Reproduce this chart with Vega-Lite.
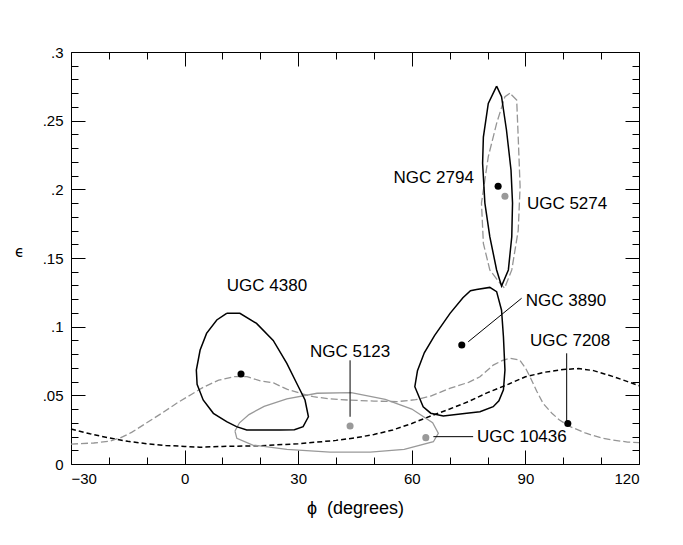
{
  "$schema": "https://vega.github.io/schema/vega-lite/v6.json",
  "width": 568,
  "height": 412,
  "autosize": {"type": "none"},
  "padding": {"left": 71, "top": 52, "right": 44, "bottom": 81},
  "background": "white",
  "config": {
    "view": {"stroke": null},
    "axis": {"grid": false, "domainColor": "black", "labelColor": "black", "titleColor": "black", "labelFont": "Liberation Sans", "labelFontSize": 15, "titleFont": "Liberation Sans", "titleFontWeight": "normal"}
  },
  "datasets": {
    "curves": [
      {"s": "bdash", "i": 0, "x": -30, "y": 0.0255},
      {"s": "bdash", "i": 1, "x": -25, "y": 0.022},
      {"s": "bdash", "i": 2, "x": -20, "y": 0.019},
      {"s": "bdash", "i": 3, "x": -15, "y": 0.0165},
      {"s": "bdash", "i": 4, "x": -10, "y": 0.0148},
      {"s": "bdash", "i": 5, "x": -5, "y": 0.0135},
      {"s": "bdash", "i": 6, "x": 0, "y": 0.0128},
      {"s": "bdash", "i": 7, "x": 4, "y": 0.0122},
      {"s": "bdash", "i": 8, "x": 10, "y": 0.0128},
      {"s": "bdash", "i": 9, "x": 20, "y": 0.0133},
      {"s": "bdash", "i": 10, "x": 30, "y": 0.0147},
      {"s": "bdash", "i": 11, "x": 40, "y": 0.0172},
      {"s": "bdash", "i": 12, "x": 45, "y": 0.019},
      {"s": "bdash", "i": 13, "x": 50, "y": 0.0215},
      {"s": "bdash", "i": 14, "x": 55, "y": 0.0248},
      {"s": "bdash", "i": 15, "x": 60, "y": 0.0295},
      {"s": "bdash", "i": 16, "x": 65, "y": 0.035},
      {"s": "bdash", "i": 17, "x": 70, "y": 0.04},
      {"s": "bdash", "i": 18, "x": 75, "y": 0.0455},
      {"s": "bdash", "i": 19, "x": 80, "y": 0.052},
      {"s": "bdash", "i": 20, "x": 85, "y": 0.0575},
      {"s": "bdash", "i": 21, "x": 90, "y": 0.0635},
      {"s": "bdash", "i": 22, "x": 95, "y": 0.0668},
      {"s": "bdash", "i": 23, "x": 100, "y": 0.0688},
      {"s": "bdash", "i": 24, "x": 104, "y": 0.0695},
      {"s": "bdash", "i": 25, "x": 108, "y": 0.068},
      {"s": "bdash", "i": 26, "x": 113, "y": 0.0638},
      {"s": "bdash", "i": 27, "x": 117, "y": 0.06},
      {"s": "bdash", "i": 28, "x": 120, "y": 0.057},

      {"s": "gdash", "i": 0, "x": -30, "y": 0.0145},
      {"s": "gdash", "i": 1, "x": -24, "y": 0.0153},
      {"s": "gdash", "i": 2, "x": -20, "y": 0.0165},
      {"s": "gdash", "i": 3, "x": -17, "y": 0.019},
      {"s": "gdash", "i": 4, "x": -14, "y": 0.023},
      {"s": "gdash", "i": 5, "x": -10, "y": 0.03},
      {"s": "gdash", "i": 6, "x": -6, "y": 0.037},
      {"s": "gdash", "i": 7, "x": -2, "y": 0.0444},
      {"s": "gdash", "i": 8, "x": 2, "y": 0.051},
      {"s": "gdash", "i": 9, "x": 5, "y": 0.056},
      {"s": "gdash", "i": 10, "x": 9, "y": 0.061},
      {"s": "gdash", "i": 11, "x": 13, "y": 0.0636},
      {"s": "gdash", "i": 12, "x": 16.5, "y": 0.0636},
      {"s": "gdash", "i": 13, "x": 20, "y": 0.0605},
      {"s": "gdash", "i": 14, "x": 23.5, "y": 0.059},
      {"s": "gdash", "i": 15, "x": 27, "y": 0.0545},
      {"s": "gdash", "i": 16, "x": 30.5, "y": 0.0515},
      {"s": "gdash", "i": 17, "x": 34, "y": 0.049},
      {"s": "gdash", "i": 18, "x": 38, "y": 0.0475},
      {"s": "gdash", "i": 19, "x": 43, "y": 0.0466},
      {"s": "gdash", "i": 20, "x": 50, "y": 0.0458},
      {"s": "gdash", "i": 21, "x": 56, "y": 0.0454},
      {"s": "gdash", "i": 22, "x": 61, "y": 0.0468},
      {"s": "gdash", "i": 23, "x": 65, "y": 0.0495},
      {"s": "gdash", "i": 24, "x": 70, "y": 0.055},
      {"s": "gdash", "i": 25, "x": 75, "y": 0.0595},
      {"s": "gdash", "i": 26, "x": 78, "y": 0.0635},
      {"s": "gdash", "i": 27, "x": 81.5, "y": 0.072},
      {"s": "gdash", "i": 28, "x": 84, "y": 0.0755},
      {"s": "gdash", "i": 29, "x": 86, "y": 0.077},
      {"s": "gdash", "i": 30, "x": 88.5, "y": 0.0757},
      {"s": "gdash", "i": 31, "x": 90, "y": 0.07},
      {"s": "gdash", "i": 32, "x": 91.2, "y": 0.0636},
      {"s": "gdash", "i": 33, "x": 93, "y": 0.053},
      {"s": "gdash", "i": 34, "x": 94.7, "y": 0.044},
      {"s": "gdash", "i": 35, "x": 97, "y": 0.037},
      {"s": "gdash", "i": 36, "x": 99, "y": 0.032},
      {"s": "gdash", "i": 37, "x": 102, "y": 0.027},
      {"s": "gdash", "i": 38, "x": 106, "y": 0.0224},
      {"s": "gdash", "i": 39, "x": 110, "y": 0.019},
      {"s": "gdash", "i": 40, "x": 113, "y": 0.0175},
      {"s": "gdash", "i": 41, "x": 117, "y": 0.016},
      {"s": "gdash", "i": 42, "x": 120, "y": 0.0155},

      {"s": "ugc4380", "i": 0, "x": 11.1, "y": 0.1097},
      {"s": "ugc4380", "i": 1, "x": 14.6, "y": 0.1097},
      {"s": "ugc4380", "i": 2, "x": 19, "y": 0.1024},
      {"s": "ugc4380", "i": 3, "x": 23.4, "y": 0.09},
      {"s": "ugc4380", "i": 4, "x": 27, "y": 0.0733},
      {"s": "ugc4380", "i": 5, "x": 29.6, "y": 0.0588},
      {"s": "ugc4380", "i": 6, "x": 31.8, "y": 0.0466},
      {"s": "ugc4380", "i": 7, "x": 32.7, "y": 0.0344},
      {"s": "ugc4380", "i": 8, "x": 31.3, "y": 0.0272},
      {"s": "ugc4380", "i": 9, "x": 29, "y": 0.025},
      {"s": "ugc4380", "i": 10, "x": 25.2, "y": 0.0248},
      {"s": "ugc4380", "i": 11, "x": 16.4, "y": 0.0248},
      {"s": "ugc4380", "i": 12, "x": 13.7, "y": 0.0272},
      {"s": "ugc4380", "i": 13, "x": 11.1, "y": 0.0308},
      {"s": "ugc4380", "i": 14, "x": 7.6, "y": 0.0369},
      {"s": "ugc4380", "i": 15, "x": 4.9, "y": 0.0466},
      {"s": "ugc4380", "i": 16, "x": 3.3, "y": 0.058},
      {"s": "ugc4380", "i": 17, "x": 3.1, "y": 0.0684},
      {"s": "ugc4380", "i": 18, "x": 4.1, "y": 0.083},
      {"s": "ugc4380", "i": 19, "x": 5.8, "y": 0.0951},
      {"s": "ugc4380", "i": 20, "x": 8.5, "y": 0.1049},
      {"s": "ugc4380", "i": 21, "x": 11.1, "y": 0.1097},

      {"s": "ngc3890", "i": 0, "x": 77.1, "y": 0.127},
      {"s": "ngc3890", "i": 1, "x": 80.6, "y": 0.1286},
      {"s": "ngc3890", "i": 2, "x": 82.4, "y": 0.1255},
      {"s": "ngc3890", "i": 3, "x": 83.7, "y": 0.112},
      {"s": "ngc3890", "i": 4, "x": 84.2, "y": 0.0927},
      {"s": "ngc3890", "i": 5, "x": 84.6, "y": 0.0684},
      {"s": "ngc3890", "i": 6, "x": 84.2, "y": 0.054},
      {"s": "ngc3890", "i": 7, "x": 83, "y": 0.046},
      {"s": "ngc3890", "i": 8, "x": 81.5, "y": 0.0417},
      {"s": "ngc3890", "i": 9, "x": 78, "y": 0.038},
      {"s": "ngc3890", "i": 10, "x": 74.5, "y": 0.0369},
      {"s": "ngc3890", "i": 11, "x": 68.3, "y": 0.035},
      {"s": "ngc3890", "i": 12, "x": 65, "y": 0.037},
      {"s": "ngc3890", "i": 13, "x": 63, "y": 0.0417},
      {"s": "ngc3890", "i": 14, "x": 60.8, "y": 0.0563},
      {"s": "ngc3890", "i": 15, "x": 61.5, "y": 0.068},
      {"s": "ngc3890", "i": 16, "x": 63.3, "y": 0.081},
      {"s": "ngc3890", "i": 17, "x": 66, "y": 0.0935},
      {"s": "ngc3890", "i": 18, "x": 70.1, "y": 0.1097},
      {"s": "ngc3890", "i": 19, "x": 73.5, "y": 0.121},
      {"s": "ngc3890", "i": 20, "x": 75.5, "y": 0.1262},
      {"s": "ngc3890", "i": 21, "x": 77.1, "y": 0.127},

      {"s": "ngc2794", "i": 0, "x": 82.4, "y": 0.2752},
      {"s": "ngc2794", "i": 1, "x": 80.2, "y": 0.2626},
      {"s": "ngc2794", "i": 2, "x": 78.9, "y": 0.238},
      {"s": "ngc2794", "i": 3, "x": 78.7, "y": 0.219},
      {"s": "ngc2794", "i": 4, "x": 79.3, "y": 0.19},
      {"s": "ngc2794", "i": 5, "x": 80.6, "y": 0.1655},
      {"s": "ngc2794", "i": 6, "x": 82.4, "y": 0.1413},
      {"s": "ngc2794", "i": 7, "x": 83.7, "y": 0.1296},
      {"s": "ngc2794", "i": 8, "x": 85.5, "y": 0.1413},
      {"s": "ngc2794", "i": 9, "x": 86.4, "y": 0.1655},
      {"s": "ngc2794", "i": 10, "x": 86.6, "y": 0.19},
      {"s": "ngc2794", "i": 11, "x": 86.2, "y": 0.214},
      {"s": "ngc2794", "i": 12, "x": 85, "y": 0.2432},
      {"s": "ngc2794", "i": 13, "x": 83.7, "y": 0.2675},
      {"s": "ngc2794", "i": 14, "x": 82.4, "y": 0.2752},

      {"s": "ugc5274", "i": 0, "x": 85.9, "y": 0.27},
      {"s": "ugc5274", "i": 1, "x": 84.6, "y": 0.2675},
      {"s": "ugc5274", "i": 2, "x": 82.4, "y": 0.248},
      {"s": "ugc5274", "i": 3, "x": 80.2, "y": 0.2238},
      {"s": "ugc5274", "i": 4, "x": 78.4, "y": 0.19},
      {"s": "ugc5274", "i": 5, "x": 78.9, "y": 0.1607},
      {"s": "ugc5274", "i": 6, "x": 80.6, "y": 0.1413},
      {"s": "ugc5274", "i": 7, "x": 83.3, "y": 0.1316},
      {"s": "ugc5274", "i": 8, "x": 84.5, "y": 0.128},
      {"s": "ugc5274", "i": 9, "x": 86.4, "y": 0.1413},
      {"s": "ugc5274", "i": 10, "x": 88.1, "y": 0.17},
      {"s": "ugc5274", "i": 11, "x": 88.6, "y": 0.202},
      {"s": "ugc5274", "i": 12, "x": 88.1, "y": 0.238},
      {"s": "ugc5274", "i": 13, "x": 87.7, "y": 0.265},
      {"s": "ugc5274", "i": 14, "x": 85.9, "y": 0.27},

      {"s": "ngc5123", "i": 0, "x": 13.3, "y": 0.024},
      {"s": "ngc5123", "i": 1, "x": 14.5, "y": 0.03},
      {"s": "ngc5123", "i": 2, "x": 17, "y": 0.036},
      {"s": "ngc5123", "i": 3, "x": 21, "y": 0.042},
      {"s": "ngc5123", "i": 4, "x": 27, "y": 0.0475},
      {"s": "ngc5123", "i": 5, "x": 35, "y": 0.0515},
      {"s": "ngc5123", "i": 6, "x": 44, "y": 0.052},
      {"s": "ngc5123", "i": 7, "x": 53, "y": 0.047},
      {"s": "ngc5123", "i": 8, "x": 60, "y": 0.04},
      {"s": "ngc5123", "i": 9, "x": 65.5, "y": 0.03},
      {"s": "ngc5123", "i": 10, "x": 67, "y": 0.0224},
      {"s": "ngc5123", "i": 11, "x": 65.7, "y": 0.0162},
      {"s": "ngc5123", "i": 12, "x": 58, "y": 0.0107},
      {"s": "ngc5123", "i": 13, "x": 49, "y": 0.0087},
      {"s": "ngc5123", "i": 14, "x": 38.4, "y": 0.0087},
      {"s": "ngc5123", "i": 15, "x": 27, "y": 0.0107},
      {"s": "ngc5123", "i": 16, "x": 18, "y": 0.0138},
      {"s": "ngc5123", "i": 17, "x": 13.8, "y": 0.0187},
      {"s": "ngc5123", "i": 18, "x": 13.3, "y": 0.024},

      {"s": "lead5123", "i": 0, "x": 43.7, "y": 0.0755},
      {"s": "lead5123", "i": 1, "x": 43.7, "y": 0.0344},
      {"s": "lead3890", "i": 0, "x": 74.9, "y": 0.089},
      {"s": "lead3890", "i": 1, "x": 89, "y": 0.1207},
      {"s": "lead7208", "i": 0, "x": 100.9, "y": 0.0806},
      {"s": "lead7208", "i": 1, "x": 100.9, "y": 0.0308},
      {"s": "lead10436", "i": 0, "x": 65.7, "y": 0.0199},
      {"s": "lead10436", "i": 1, "x": 76.2, "y": 0.0199}
    ],
    "dots": [
      {"name": "UGC 4380", "x": 14.9, "y": 0.0655},
      {"name": "NGC 5123", "x": 43.7, "y": 0.0277},
      {"name": "UGC 10436", "x": 63.7, "y": 0.0192},
      {"name": "NGC 3890", "x": 73.2, "y": 0.0867},
      {"name": "NGC 2794", "x": 82.8, "y": 0.2022},
      {"name": "UGC 5274", "x": 84.6, "y": 0.195},
      {"name": "UGC 7208", "x": 101.2, "y": 0.0295}
    ],
    "names": [
      {"name": "UGC 4380", "x": 21.75, "y": 0.1296},
      {"name": "NGC 5123", "x": 43.7, "y": 0.0816},
      {"name": "UGC 7208", "x": 101.8, "y": 0.0896},
      {"name": "NGC 2794", "x": 76.4, "y": 0.2083},
      {"name": "UGC 5274", "x": 90.4, "y": 0.1893},
      {"name": "NGC 3890", "x": 90.1, "y": 0.1187},
      {"name": "UGC 10436", "x": 77.2, "y": 0.0193}
    ]
  },
  "resolve": {"axis": {"x": "independent", "y": "independent"}},
  "layer": [
    {
      "data": {"name": "curves"},
      "transform": [{"filter": "datum.s == 'bdash'"}],
      "mark": {"type": "line", "color": "black", "strokeWidth": 1.5, "strokeDash": [5, 3]},
      "encoding": {
        "x": {"field": "x", "type": "quantitative", "scale": {"domain": [-30, 120], "nice": false, "zero": false},
              "axis": {"orient": "bottom", "values": [-30, -20, -10, 0, 10, 20, 30, 40, 50, 60, 70, 80, 90, 100, 110, 120],
                       "labelExpr": "datum.value % 30 == 0 ? format(datum.value, 'd') : ''",
                       "tickColor": "black",
                       "tickSize": {"condition": {"test": "datum.value % 30 == 0", "value": -14}, "value": -7},
                       "labelPadding": 21,
                       "title": "ϕ\u00a0\u00a0(degrees)", "titleFontSize": 18, "titleY": 44, "titleBaseline": "middle"}},
        "y": {"field": "y", "type": "quantitative", "scale": {"domain": [0, 0.3], "nice": false, "zero": false},
              "axis": {"orient": "left", "values": [0, 0.01, 0.02, 0.03, 0.04, 0.05, 0.06, 0.07, 0.08, 0.09, 0.1, 0.11, 0.12, 0.13, 0.14, 0.15, 0.16, 0.17, 0.18, 0.19, 0.2, 0.21, 0.22, 0.23, 0.24, 0.25, 0.26, 0.27, 0.28, 0.29, 0.3],
                       "labelExpr": "round(datum.value * 100) % 5 == 0 ? (datum.value == 0 ? '0' : slice(format(datum.value, '.2~f'), 1)) : ''",
                       "tickColor": "black",
                       "tickSize": {"condition": {"test": "round(datum.value * 100) % 5 == 0", "value": -14}, "value": -7},
                       "labelPadding": 22,
                       "title": "ϵ", "titleFont": "DejaVu Sans", "titleFontSize": 15, "titleAngle": 0, "titleX": -52, "titleY": 199, "titleAlign": "center", "titleBaseline": "middle"}},
        "order": {"field": "i", "type": "quantitative"}
      }
    },
    {
      "data": {"name": "curves"},
      "transform": [{"filter": "datum.s == 'gdash'"}],
      "mark": {"type": "line", "color": "#959595", "strokeWidth": 1.3, "strokeDash": [7, 3]},
      "encoding": {
        "x": {"field": "x", "type": "quantitative", "scale": {"domain": [-30, 120], "nice": false, "zero": false},
              "axis": {"orient": "top", "values": [-30, -20, -10, 0, 10, 20, 30, 40, 50, 60, 70, 80, 90, 100, 110, 120],
                       "labels": false, "tickColor": "black",
                       "tickSize": {"condition": {"test": "datum.value % 30 == 0", "value": -14}, "value": -7},
                       "title": null}},
        "y": {"field": "y", "type": "quantitative", "scale": {"domain": [0, 0.3], "nice": false, "zero": false},
              "axis": {"orient": "right", "values": [0, 0.01, 0.02, 0.03, 0.04, 0.05, 0.06, 0.07, 0.08, 0.09, 0.1, 0.11, 0.12, 0.13, 0.14, 0.15, 0.16, 0.17, 0.18, 0.19, 0.2, 0.21, 0.22, 0.23, 0.24, 0.25, 0.26, 0.27, 0.28, 0.29, 0.3],
                       "labels": false, "tickColor": "black",
                       "tickSize": {"condition": {"test": "round(datum.value * 100) % 5 == 0", "value": -14}, "value": -7},
                       "title": null}},
        "order": {"field": "i", "type": "quantitative"}
      }
    },
    {
      "data": {"name": "curves"},
      "transform": [{"filter": "datum.s == 'ngc5123'"}],
      "mark": {"type": "line", "color": "#999999", "strokeWidth": 1.3},
      "encoding": {
        "x": {"field": "x", "type": "quantitative", "scale": {"domain": [-30, 120], "nice": false, "zero": false}, "axis": {"orient": "bottom", "values": [], "labels": false, "domain": false, "title": null}},
        "y": {"field": "y", "type": "quantitative", "scale": {"domain": [0, 0.3], "nice": false, "zero": false}, "axis": {"orient": "left", "values": [], "labels": false, "domain": false, "title": null}},
        "order": {"field": "i", "type": "quantitative"}
      }
    },
    {
      "data": {"name": "curves"},
      "transform": [{"filter": "datum.s == 'ugc5274'"}],
      "mark": {"type": "line", "color": "#959595", "strokeWidth": 1.3, "strokeDash": [8, 3]},
      "encoding": {
        "x": {"field": "x", "type": "quantitative", "scale": {"domain": [-30, 120], "nice": false, "zero": false}, "axis": {"orient": "bottom", "values": [], "labels": false, "domain": false, "title": null}},
        "y": {"field": "y", "type": "quantitative", "scale": {"domain": [0, 0.3], "nice": false, "zero": false}, "axis": {"orient": "left", "values": [], "labels": false, "domain": false, "title": null}},
        "order": {"field": "i", "type": "quantitative"}
      }
    },
    {
      "data": {"name": "curves"},
      "transform": [{"filter": "indexof(['ugc4380','ngc3890','ngc2794'], datum.s) >= 0"}],
      "mark": {"type": "line", "color": "black", "strokeWidth": 1.5},
      "encoding": {
        "x": {"field": "x", "type": "quantitative", "scale": {"domain": [-30, 120], "nice": false, "zero": false}, "axis": {"orient": "bottom", "values": [], "labels": false, "domain": false, "title": null}},
        "y": {"field": "y", "type": "quantitative", "scale": {"domain": [0, 0.3], "nice": false, "zero": false}, "axis": {"orient": "left", "values": [], "labels": false, "domain": false, "title": null}},
        "detail": {"field": "s"},
        "order": {"field": "i", "type": "quantitative"}
      }
    },
    {
      "data": {"name": "curves"},
      "transform": [{"filter": "indexof(['lead5123','lead3890','lead7208','lead10436'], datum.s) >= 0"}],
      "mark": {"type": "line", "color": "black", "strokeWidth": 1},
      "encoding": {
        "x": {"field": "x", "type": "quantitative", "scale": {"domain": [-30, 120], "nice": false, "zero": false}, "axis": {"orient": "bottom", "values": [], "labels": false, "domain": false, "title": null}},
        "y": {"field": "y", "type": "quantitative", "scale": {"domain": [0, 0.3], "nice": false, "zero": false}, "axis": {"orient": "left", "values": [], "labels": false, "domain": false, "title": null}},
        "detail": {"field": "s"},
        "order": {"field": "i", "type": "quantitative"}
      }
    },
    {
      "data": {"name": "dots"},
      "transform": [{"filter": "indexof(['NGC 5123','UGC 10436','UGC 5274'], datum.name) >= 0"}],
      "mark": {"type": "circle", "color": "#999999", "opacity": 1, "size": 50},
      "encoding": {
        "x": {"field": "x", "type": "quantitative", "scale": {"domain": [-30, 120], "nice": false, "zero": false}, "axis": {"orient": "bottom", "values": [], "labels": false, "domain": false, "title": null}},
        "y": {"field": "y", "type": "quantitative", "scale": {"domain": [0, 0.3], "nice": false, "zero": false}, "axis": {"orient": "left", "values": [], "labels": false, "domain": false, "title": null}}
      }
    },
    {
      "data": {"name": "dots"},
      "transform": [{"filter": "indexof(['UGC 4380','NGC 3890','NGC 2794','UGC 7208'], datum.name) >= 0"}],
      "mark": {"type": "circle", "color": "black", "opacity": 1, "size": 50},
      "encoding": {
        "x": {"field": "x", "type": "quantitative", "scale": {"domain": [-30, 120], "nice": false, "zero": false}, "axis": {"orient": "bottom", "values": [], "labels": false, "domain": false, "title": null}},
        "y": {"field": "y", "type": "quantitative", "scale": {"domain": [0, 0.3], "nice": false, "zero": false}, "axis": {"orient": "left", "values": [], "labels": false, "domain": false, "title": null}}
      }
    },
    {
      "data": {"name": "names"},
      "transform": [{"filter": "indexof(['UGC 4380','NGC 5123','UGC 7208'], datum.name) >= 0"}],
      "mark": {"type": "text", "font": "Liberation Sans", "fontSize": 17, "color": "black", "align": "center", "baseline": "middle"},
      "encoding": {
        "x": {"field": "x", "type": "quantitative", "scale": {"domain": [-30, 120], "nice": false, "zero": false}, "axis": {"orient": "bottom", "values": [], "labels": false, "domain": false, "title": null}},
        "y": {"field": "y", "type": "quantitative", "scale": {"domain": [0, 0.3], "nice": false, "zero": false}, "axis": {"orient": "left", "values": [], "labels": false, "domain": false, "title": null}},
        "text": {"field": "name"}
      }
    },
    {
      "data": {"name": "names"},
      "transform": [{"filter": "indexof(['UGC 5274','NGC 3890','UGC 10436'], datum.name) >= 0"}],
      "mark": {"type": "text", "font": "Liberation Sans", "fontSize": 17, "color": "black", "align": "left", "baseline": "middle"},
      "encoding": {
        "x": {"field": "x", "type": "quantitative", "scale": {"domain": [-30, 120], "nice": false, "zero": false}, "axis": {"orient": "bottom", "values": [], "labels": false, "domain": false, "title": null}},
        "y": {"field": "y", "type": "quantitative", "scale": {"domain": [0, 0.3], "nice": false, "zero": false}, "axis": {"orient": "left", "values": [], "labels": false, "domain": false, "title": null}},
        "text": {"field": "name"}
      }
    },
    {
      "data": {"name": "names"},
      "transform": [{"filter": "datum.name == 'NGC 2794'"}],
      "mark": {"type": "text", "font": "Liberation Sans", "fontSize": 17, "color": "black", "align": "right", "baseline": "middle"},
      "encoding": {
        "x": {"field": "x", "type": "quantitative", "scale": {"domain": [-30, 120], "nice": false, "zero": false}, "axis": {"orient": "bottom", "values": [], "labels": false, "domain": false, "title": null}},
        "y": {"field": "y", "type": "quantitative", "scale": {"domain": [0, 0.3], "nice": false, "zero": false}, "axis": {"orient": "left", "values": [], "labels": false, "domain": false, "title": null}},
        "text": {"field": "name"}
      }
    }
  ]
}
